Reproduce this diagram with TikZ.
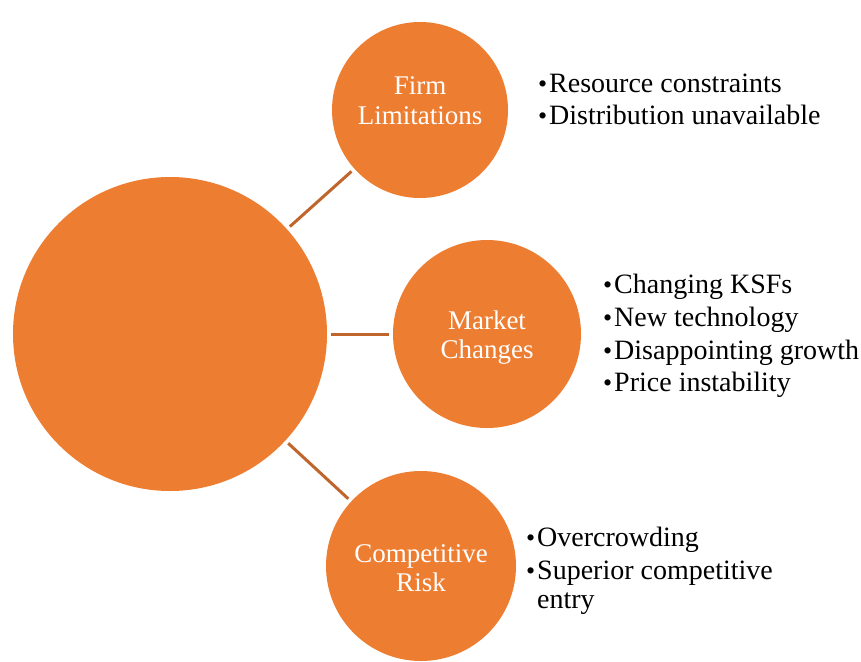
\documentclass[tikz,border=0pt]{standalone}
\usepackage{fontspec}
\setmainfont{Liberation Serif}
\definecolor{orng}{HTML}{ED7D31}
\definecolor{lnk}{HTML}{C0662D}
\newcommand\mybul{\llap{\raisebox{-0.5pt}{\fontsize{26}{26}\selectfont •}\hspace{2pt}}}
\begin{document}
\begin{tikzpicture}[x=1pt,y=-1pt,
  circ/.style={circle,fill=orng,draw=none,inner sep=0pt,outer sep=0pt},
  ctext/.style={text=white,font=\fontsize{27}{30}\selectfont,anchor=base},
  btext/.style={text=black,font=\fontsize{28}{32}\selectfont,anchor=base west,inner sep=0pt},
  conn/.style={draw=lnk,line width=3pt,shorten <=4pt,shorten >=4pt}]
\useasboundingbox (0,0) rectangle (861,661);
\node[circ,minimum size=314pt] (core) at (170,334) {};
\node[circ,minimum size=176pt] (firm) at (420,110) {};
\node[circ,minimum size=188pt] (market) at (487,334) {};
\node[circ,minimum size=190pt] (comp) at (421,566) {};
\draw[conn] (core) -- (firm);
\draw[conn] (core) -- (market);
\draw[conn] (core) -- (comp);
\node[ctext] (f1) at (420,94) {Firm};
\node[ctext] (f2) at (420,124) {Limitations};
\node[ctext] (m1) at (487,329) {Market};
\node[ctext] (m2) at (487,358) {Changes};
\node[ctext] (c1) at (421,562) {Competitive};
\node[ctext] (c2) at (421,591) {Risk};
\node[btext] (fb1) at (549,92) {\mybul Resource constraints};
\node[btext] (fb2) at (549,124) {\mybul Distribution unavailable};
\node[btext] (mb1) at (614,293) {\mybul Changing KSFs};
\node[btext] (mb2) at (614,326) {\mybul New technology};
\node[btext] (mb3) at (614,359) {\mybul Disappointing growth};
\node[btext] (mb4) at (614,391) {\mybul Price instability};
\node[btext] (cb1) at (537,546) {\mybul Overcrowding};
\node[btext] (cb2) at (537,579) {\mybul Superior competitive};
\node[btext] (cb3) at (537,608) {entry};
\end{tikzpicture}
\end{document}
